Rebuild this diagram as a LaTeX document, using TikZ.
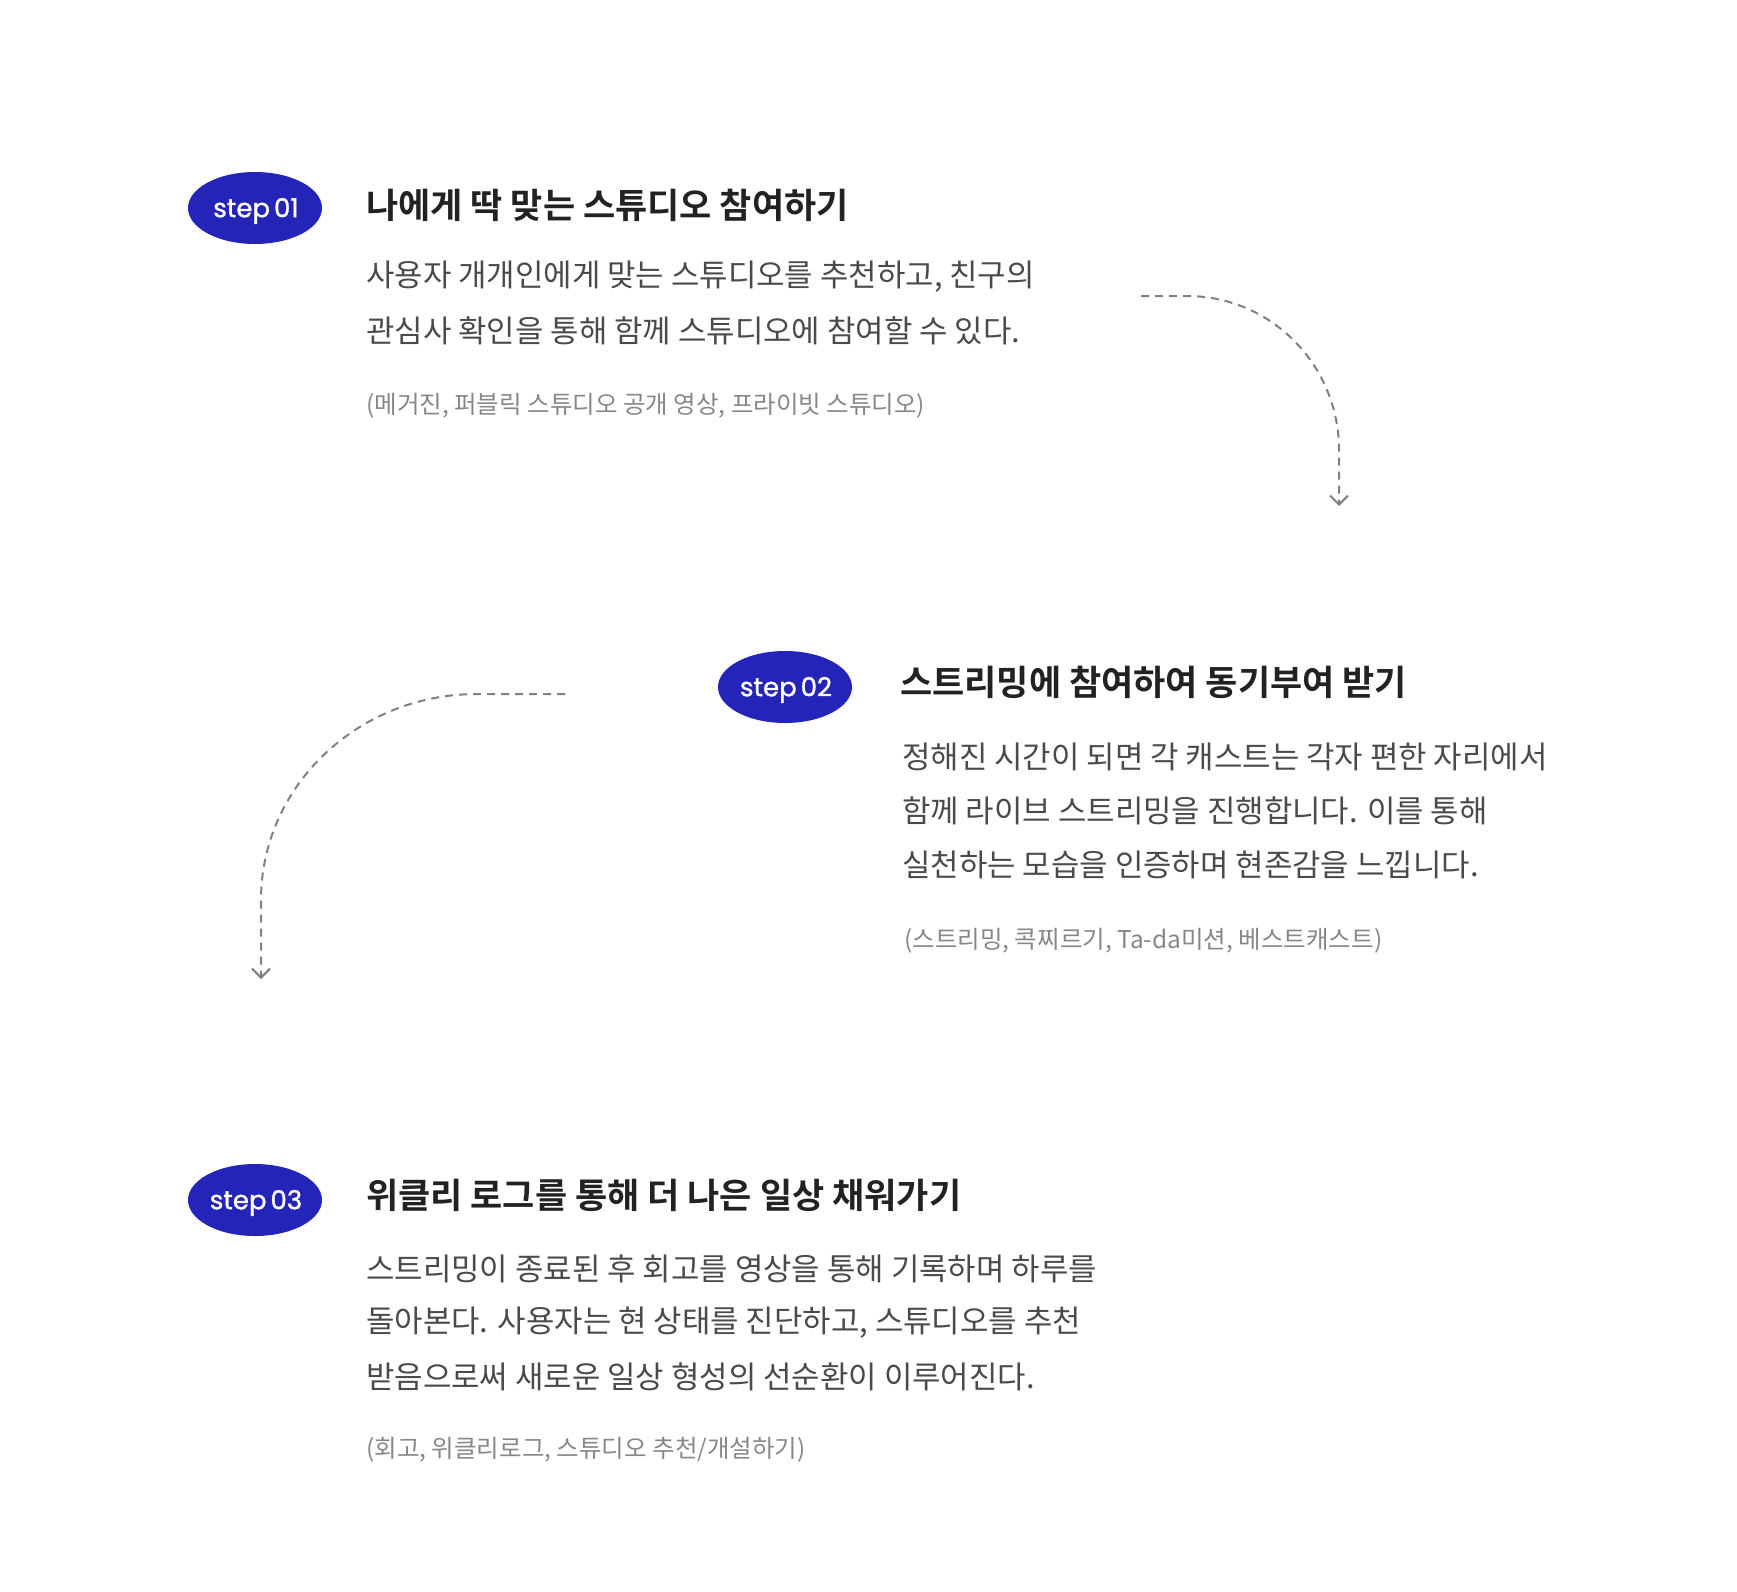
\documentclass[tikz,border=0pt]{standalone}
\usepackage{fontspec}
\usetikzlibrary{shapes.geometric,arrows.meta}
\newfontfamily\krtitle{Noto Sans CJK KR Bold}
\newfontfamily\krbody{Noto Sans CJK KR}
\newfontfamily\stepfont[FakeBold=1.2]{Poppins}
\definecolor{stepblue}{RGB}{37,36,185}
\definecolor{titlegray}{RGB}{34,34,34}
\definecolor{bodygray}{RGB}{74,74,74}
\definecolor{notegray}{RGB}{135,135,135}
\definecolor{flowgray}{RGB}{128,128,128}
\tikzset{
  stepnode/.style={ellipse, fill=stepblue, minimum width=134pt, minimum height=72pt, inner sep=0pt},
  steplabel/.style={inner sep=0pt, text=white, font=\stepfont\fontsize{26}{26}\selectfont},
  titletext/.style={anchor=west, inner sep=0pt, text=titlegray, font=\krtitle\fontsize{35}{40}\selectfont},
  bodytext/.style={anchor=west, inner sep=0pt, text=bodygray, font=\krbody\fontsize{30.9}{36}\selectfont},
  notetext/.style={anchor=west, inner sep=0pt, text=notegray, font=\krbody\fontsize{24.5}{30}\selectfont},
  flow/.style={draw=flowgray, line width=2pt, dash pattern=on 8pt off 6pt, -{Straight Barb[length=9pt,width=18pt,line width=2pt]}},
}
\begin{document}
\begin{tikzpicture}[x=1pt,y=-1pt]
\useasboundingbox (0,0) rectangle (1737,1591);
% step 01
\node[stepnode] (s1) at (255,208) {};
\node[steplabel] (l1) at (256,211) {step\hspace{4pt}01};
\node[titletext] (t1) at (366,205) {나에게 딱 맞는 스튜디오 참여하기};
\node[bodytext] (b1a) at (366,277) {사용자 개개인에게 맞는 스튜디오를 추천하고, 친구의};
\node[bodytext] (b1b) at (366,331) {관심사 확인을 통해 함께 스튜디오에 참여할 수 있다.};
\node[notetext] (n1) at (366,406) {(메거진, 퍼블릭 스튜디오 공개 영상, 프라이빗 스튜디오)};
% step 02
\node[stepnode] (s2) at (785,687) {};
\node[steplabel] (l2) at (786,690) {step\hspace{4pt}02};
\node[titletext] (t2) at (900,682) {스트리밍에 참여하여 동기부여 받기};
\node[bodytext] (b2a) at (902,757) {정해진 시간이 되면 각 캐스트는 각자 편한 자리에서};
\node[bodytext] (b2b) at (902,811) {함께 라이브 스트리밍을 진행합니다. 이를 통해};
\node[bodytext] (b2c) at (902,865) {실천하는 모습을 인증하며 현존감을 느낍니다.};
\node[notetext] (n2) at (904,941) {(스트리밍, 콕찌르기, Ta-da미션, 베스트캐스트)};
% step 03
\node[stepnode] (s3) at (255,1200) {};
\node[steplabel] (l3) at (256,1203) {step\hspace{4pt}03};
\node[titletext] (t3) at (366,1195) {위클리 로그를 통해 더 나은 일상 채워가기};
\node[bodytext] (b3a) at (366,1269) {스트리밍이 종료된 후 회고를 영상을 통해 기록하며 하루를};
\node[bodytext] (b3b) at (366,1323) {돌아본다. 사용자는 현 상태를 진단하고, 스튜디오를 추천};
\node[bodytext] (b3c) at (366,1377) {받음으로써 새로운 일상 형성의 선순환이 이루어진다.};
\node[notetext] (n3) at (366,1450) {(회고, 위클리로그, 스튜디오 추천/개설하기)};
% connectors
\coordinate (a1s) at (1141,296);
\coordinate (a1e) at (1339,506);
\coordinate (a2s) at (565,694);
\coordinate (a2e) at (261,979);
\draw[flow] (a1s) -- (1187,296) .. controls (1271,296) and (1339,365) .. (1339,450) -- (a1e);
\draw[flow] (a2s) -- (477,694) .. controls (358,694) and (261,786) .. (261,900) -- (a2e);
\end{tikzpicture}
\end{document}
